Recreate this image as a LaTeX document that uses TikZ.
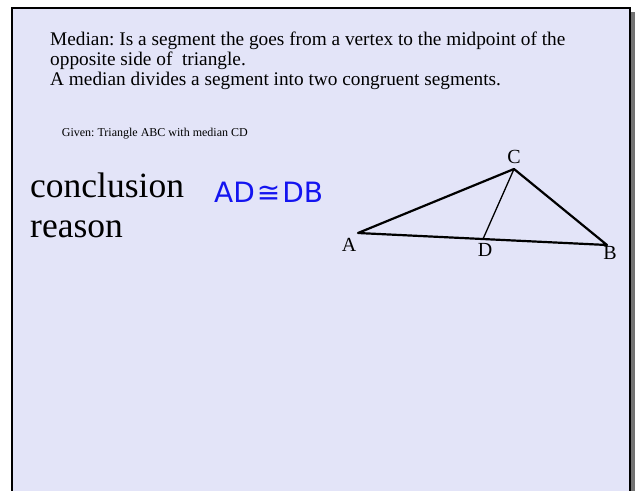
\documentclass[tikz,border=0pt]{standalone}
\usepackage{fontspec}
\setmainfont{Liberation Serif}
\newfontfamily\handfont{DejaVu Sans}
\usepackage{xcolor}
\definecolor{slidecolor}{HTML}{E3E4F8}
\definecolor{inkblue}{HTML}{1414F0}
\colorlet{shadowgray}{gray!90!black}
\usepackage{tikz}
\usetikzlibrary{positioning}
\frenchspacing
\tikzset{
    % Slide
    slide/.style={ fill=slidecolor, draw=black, line width=1.6pt },
    shadow/.style={ fill=shadowgray },
    % Text
    bodytext/.style={ anchor=base west, inner sep=0, font=\fontsize{19.3}{20}\selectfont },
    smalltext/.style={ anchor=base west, inner sep=0, font=\fontsize{12}{14}\selectfont },
    bigtext/.style={ anchor=base west, inner sep=0, font=\fontsize{35.5}{40}\selectfont },
    handtext/.style={ anchor=base west, inner sep=0, text=inkblue, font=\handfont\fontsize{28}{30}\selectfont },
    % Triangle
    side/.style={ draw=black, line width=2.2pt, line cap=round, line join=round },
    mediansegment/.style={ draw=black, line width=1.3pt, line cap=round },
    vlabel/.style={ inner sep=0, font=\fontsize{20}{22}\selectfont },
}

\begin{document}
\begin{tikzpicture}[x=1pt, y=-1pt]
    \useasboundingbox (0,0) rectangle (637,490);
    \clip (0,0) rectangle (637,490);

    % Slide with shadow
    \fill[shadow] (16,12) rectangle (635,500);
    \draw[slide] (12,8) rectangle (630,500);

    % Definition
    \node[bodytext] (def-1) at (50,45.7) {Median: Is a segment the goes from a vertex to the midpoint of the};
    \node[bodytext] (def-2) at ([yshift=-20pt] def-1.base west) {opposite side of \ triangle.};
    \node[bodytext] (def-3) at ([yshift=-20pt] def-2.base west) {A median divides a segment into two congruent segments.};
    \node[smalltext] (given) at (61.7,136.7) {Given: Triangle ABC with median CD};

    % Proof
    \node[bigtext] (conclusion) at (30,197.3) {conclusion};
    \node[bigtext] (reason) at ([yshift=-40pt] conclusion.base west) {reason};
    \node[handtext] (statement) at (214,202) {AD\kern2pt≅\kern2ptDB};

    % Triangle ABC with median CD
    \coordinate (A) at (358,233);
    \coordinate (B) at (607,245);
    \coordinate (C) at (514,169);
    \coordinate (D) at (483,239);
    \draw[side] (A) -- (C) -- (B) -- cycle;
    \draw[mediansegment] (C) -- (D);

    \node[vlabel] (label-A) at (349,245) {A};
    \node[vlabel] (label-B) at (610,253) {B};
    \node[vlabel] (label-C) at (514,157) {C};
    \node[vlabel] (label-D) at (485,250) {D};
\end{tikzpicture}
\end{document}
